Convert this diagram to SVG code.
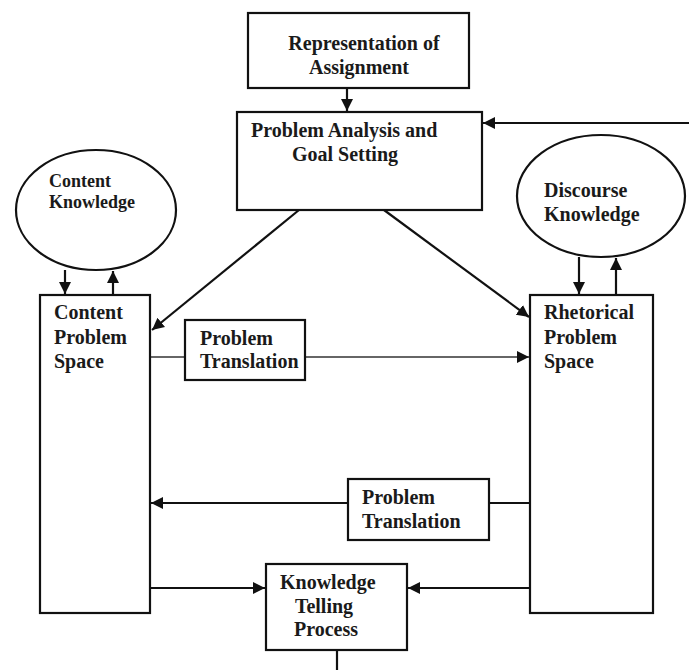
<svg xmlns="http://www.w3.org/2000/svg" width="689" height="670" viewBox="0 0 689 670">
<defs>
<style>
.box{fill:#fff;stroke:#111;stroke-width:2.2}
.ell{fill:#fff;stroke:#111;stroke-width:2.2}
.t{font-family:"Liberation Serif","Times New Roman",serif;font-weight:bold;font-size:20px;fill:#1a1a1a}
.ts{font-size:18px}
.c{fill:none;stroke:#111;stroke-width:2.2}
.thin{stroke:#333;stroke-width:1.6}
</style>
<marker id="ah" markerUnits="userSpaceOnUse" markerWidth="14" markerHeight="14" refX="12" refY="6" orient="auto">
<path d="M0,0 L12,6 L0,12 Z" fill="#111"/>
</marker>
</defs>
<rect width="689" height="670" fill="#fff"/>
<g id="connectors">
<line class="c" x1="347" y1="88" x2="347" y2="111" marker-end="url(#ah)"/>
<line class="c" x1="689" y1="123" x2="483" y2="123" marker-end="url(#ah)"/>
<line class="c" x1="299" y1="210" x2="152" y2="330" marker-end="url(#ah)"/>
<line class="c" x1="384" y1="210" x2="529" y2="317" marker-end="url(#ah)"/>
<line class="c" x1="65" y1="270" x2="65" y2="294" marker-end="url(#ah)"/>
<line class="c" x1="113" y1="295" x2="113" y2="271" marker-end="url(#ah)"/>
<line class="c" x1="579" y1="257" x2="579" y2="294" marker-end="url(#ah)"/>
<line class="c" x1="616" y1="295" x2="616" y2="258" marker-end="url(#ah)"/>
<line class="c thin" x1="150" y1="357" x2="185" y2="357"/>
<line class="c thin" x1="305" y1="357" x2="529" y2="357" marker-end="url(#ah)"/>
<line class="c" x1="530" y1="503" x2="489" y2="503"/>
<line class="c" x1="348" y1="503" x2="151" y2="503" marker-end="url(#ah)"/>
<line class="c" x1="150" y1="588" x2="265" y2="588" marker-end="url(#ah)"/>
<line class="c" x1="530" y1="588" x2="408" y2="588" marker-end="url(#ah)"/>
<line class="c" x1="337" y1="650" x2="337" y2="670"/>
</g>
<g id="representation">
<rect class="box" x="248" y="13" width="221" height="75"/>
<text class="t" x="364" y="50" text-anchor="middle">Representation of</text>
<text class="t" x="359" y="74" text-anchor="middle">Assignment</text>
</g>
<g id="analysis">
<rect class="box" x="237" y="112" width="245" height="98"/>
<text class="t" x="251" y="137">Problem Analysis and</text>
<text class="t" x="345" y="161" text-anchor="middle">Goal Setting</text>
</g>
<g id="content-knowledge">
<ellipse class="ell" cx="96" cy="210" rx="80" ry="60"/>
<text class="t ts" x="49" y="187">Content</text>
<text class="t ts" x="49" y="208">Knowledge</text>
</g>
<g id="discourse-knowledge">
<ellipse class="ell" cx="601" cy="196" rx="84" ry="61"/>
<text class="t" x="544" y="197">Discourse</text>
<text class="t" x="544" y="221">Knowledge</text>
</g>
<g id="content-space">
<rect class="box" x="40" y="295" width="110" height="318"/>
<text class="t" x="54" y="319">Content</text>
<text class="t" x="54" y="344">Problem</text>
<text class="t" x="54" y="368">Space</text>
</g>
<g id="rhetorical-space">
<rect class="box" x="530" y="295" width="123" height="318"/>
<text class="t" x="544" y="319">Rhetorical</text>
<text class="t" x="544" y="344">Problem</text>
<text class="t" x="544" y="368">Space</text>
</g>
<g id="translation1">
<rect class="box" x="185" y="320" width="120" height="60"/>
<text class="t" x="200" y="345">Problem</text>
<text class="t" x="200" y="368">Translation</text>
</g>
<g id="translation2">
<rect class="box" x="348" y="479" width="141" height="61"/>
<text class="t" x="362" y="504">Problem</text>
<text class="t" x="362" y="528">Translation</text>
</g>
<g id="knowledge-telling">
<rect class="box" x="266" y="564" width="141" height="86"/>
<text class="t" x="280" y="589">Knowledge</text>
<text class="t" x="324" y="613" text-anchor="middle">Telling</text>
<text class="t" x="326" y="636" text-anchor="middle">Process</text>
</g>
</svg>
